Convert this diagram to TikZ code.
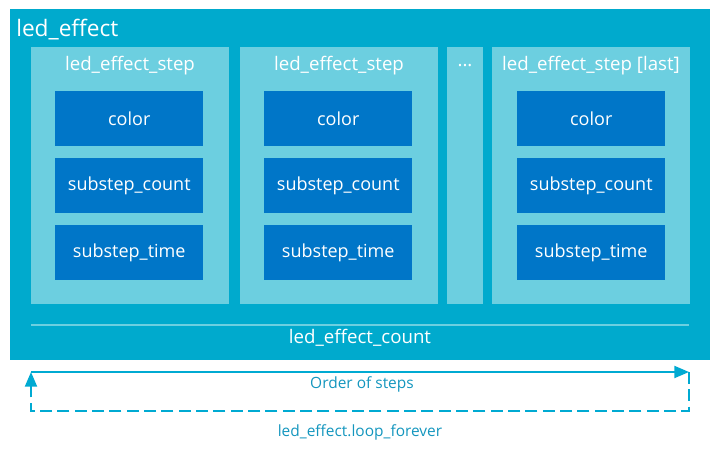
\documentclass[tikz,border=0pt]{standalone}
\usepackage{fontspec}
\setmainfont{Open Sans}
\usetikzlibrary{arrows.meta}
\definecolor{outerc}{RGB}{0,170,205}
\definecolor{stepc}{RGB}{108,207,224}
\definecolor{innerc}{RGB}{0,118,200}
\definecolor{linec}{RGB}{0,170,210}
\definecolor{textc}{RGB}{20,150,190}
\tikzset{
  outerbox/.style={fill=outerc, draw=none, anchor=north west, minimum width=525pt, minimum height=263.25pt, inner sep=0pt},
  stepbox/.style={fill=stepc, draw=none, anchor=north west, minimum width=148.5pt, minimum height=192.75pt, inner sep=0pt},
  dotbox/.style={fill=stepc, draw=none, anchor=north west, minimum width=27pt, minimum height=192.75pt, inner sep=0pt},
  fieldbox/.style={fill=innerc, draw=none, anchor=north west, minimum width=111pt, minimum height=41.25pt, inner sep=0pt, text=white, font=\fontsize{13.5}{16}\selectfont},
  wlabel/.style={text=white, font=\fontsize{14}{17}\selectfont, inner sep=0pt},
  flow/.style={draw=linec, line width=1.5pt},
  tip/.style={-{Triangle[length=11pt,width=9pt]}},
  blabel/.style={text=textc, font=\fontsize{11.6}{14}\selectfont, inner sep=0pt}
}
\begin{document}
\begin{tikzpicture}[x=0.75pt,y=-0.75pt]
\useasboundingbox (0,0) rectangle (721,449);
\node[outerbox] (outer) at (10,9) {};
\node[wlabel, anchor=west, font=\fontsize{17}{20}\selectfont] (title) at (16,30) {led\_effect};
% step 1
\node[stepbox] (s1) at (31,47) {};
\node[wlabel] (s1l) at (130,66) {led\_effect\_step};
\node[fieldbox] (s1a) at (55,91) {color};
\node[fieldbox] (s1b) at (55,158) {substep\_count};
\node[fieldbox] (s1c) at (55,225) {substep\_time};
% step 2
\node[stepbox] (s2) at (240,47) {};
\node[wlabel] (s2l) at (339,66) {led\_effect\_step};
\node[fieldbox] (s2a) at (264,91) {color};
\node[fieldbox] (s2b) at (264,158) {substep\_count};
\node[fieldbox] (s2c) at (264,225) {substep\_time};
% dots
\node[dotbox] (dots) at (447,47) {};
\node[wlabel] (dotsl) at (465,66) {...};
% last
\node[stepbox] (s3) at (492,47) {};
\node[wlabel] (s3l) at (591,66) {led\_effect\_step [last]};
\node[fieldbox] (s3a) at (517,91) {color};
\node[fieldbox] (s3b) at (517,158) {substep\_count};
\node[fieldbox] (s3c) at (517,225) {substep\_time};
% count line
\coordinate (cl) at (31,325);
\coordinate (cr) at (689,325);
\draw[draw=stepc, line width=2pt] (cl) -- (cr);
\node[wlabel] (count) at (360,338) {led\_effect\_count};
% order arrow
\coordinate (ol) at (31,372);
\coordinate (or) at (689,372);
\coordinate (bl) at (31,411);
\coordinate (br) at (689,411);
\draw[flow, tip] (ol) -- (or);
\node[blabel] (order) at (362,384) {Order of steps};
\draw[flow, tip, dash pattern=on 9pt off 4pt] (or) -- (br) -- (bl) -- (ol);
\node[blabel] (loop) at (360,432) {led\_effect.loop\_forever};
\end{tikzpicture}
\end{document}
